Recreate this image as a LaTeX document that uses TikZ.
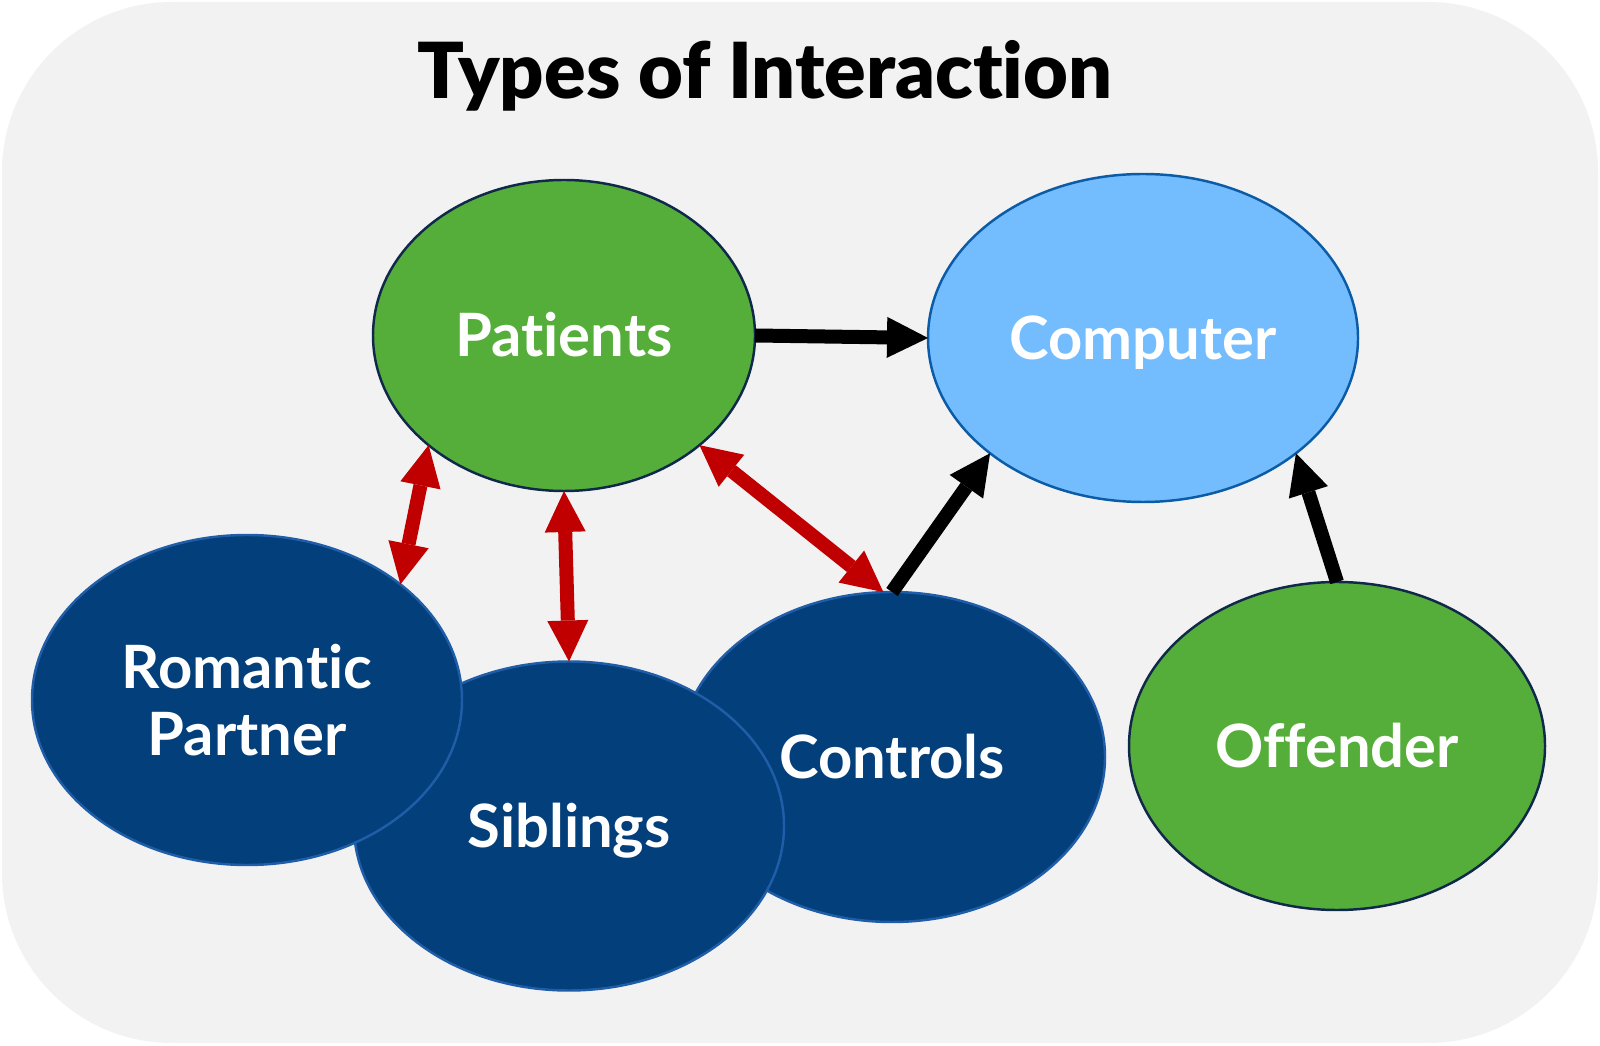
\documentclass[tikz,border=0pt]{standalone}
\usepackage{fontspec}
\setmainfont{Lato}[Ligatures=NoCommon]
\newfontfamily\titlefont{Lato Black}[Ligatures=NoCommon]
\usepackage{tikz}
\usetikzlibrary{shapes.geometric,arrows.meta}
\definecolor{bggray}{HTML}{F2F2F2}
\definecolor{leafgreen}{HTML}{55AE3A}
\definecolor{greenline}{HTML}{10294A}
\definecolor{skyblue}{HTML}{73BCFD}
\definecolor{skyline}{HTML}{0B5BA6}
\definecolor{navy}{HTML}{033F7A}
\definecolor{navyline}{HTML}{1F5DA8}
\definecolor{darkred}{HTML}{C00000}
\tikzstyle{arrow} = [line width=0.14cm,->,>={Triangle[length=0.41cm,width=0.41cm,line width=0pt]}]
\tikzstyle{arrow_red} = [arrow,<->,darkred]
\tikzstyle{bubble} = [ellipse, draw, line width=0.7pt, inner sep=0pt, outer sep=0pt, text=white, font=\fontsize{17}{19}\selectfont\bfseries]
\tikzstyle{oneline} = [text height=12.2pt, text depth=0pt]

\begin{document}
\begin{tikzpicture}
    \useasboundingbox (0,0) rectangle (16,-10.46);
    \fill[bggray, rounded corners=1.7cm] (0.02,-0.02) rectangle (15.98,-10.43);

    \node (title) [anchor=base, font=\fontsize{22}{26}\selectfont\titlefont] at (7.65,-0.99) {Types of Interaction};

    \node (controls) [bubble, oneline, fill=navy, draw=navyline, minimum width=4.26cm, minimum height=3.3cm] at (8.92,-7.57) {Controls};
    \node (siblings) [bubble, oneline, fill=navy, draw=navyline, minimum width=4.3cm, minimum height=3.29cm] at (5.69,-8.26) {Siblings};
    \node (romantic) [bubble, fill=navy, draw=navyline, minimum width=4.3cm, minimum height=3.3cm, align=center] at (2.47,-7.00) {Romantic\\Partner};
    \node (patients) [bubble, oneline, fill=leafgreen, draw=greenline, minimum width=3.82cm, minimum height=3.11cm] at (5.64,-3.355) {Patients};
    \node (computer) [bubble, oneline, fill=skyblue, draw=skyline, minimum width=4.3cm, minimum height=3.28cm] at (11.43,-3.38) {Computer};
    \node (offender) [bubble, oneline, fill=leafgreen, draw=greenline, minimum width=4.16cm, minimum height=3.28cm] at (13.37,-7.46) {Offender};

    \draw [arrow] (patients.east) -- (computer.west);
    \draw [arrow] (controls.north) -- (computer.217);
    \draw [arrow] (offender.north) -- (computer.323);
    \draw [arrow_red] (patients.219) -- (romantic.37);
    \draw [arrow_red] (patients.south) -- (siblings.north);
    \draw [arrow_red] (patients.321) -- (controls.93);
\end{tikzpicture}
\end{document}
